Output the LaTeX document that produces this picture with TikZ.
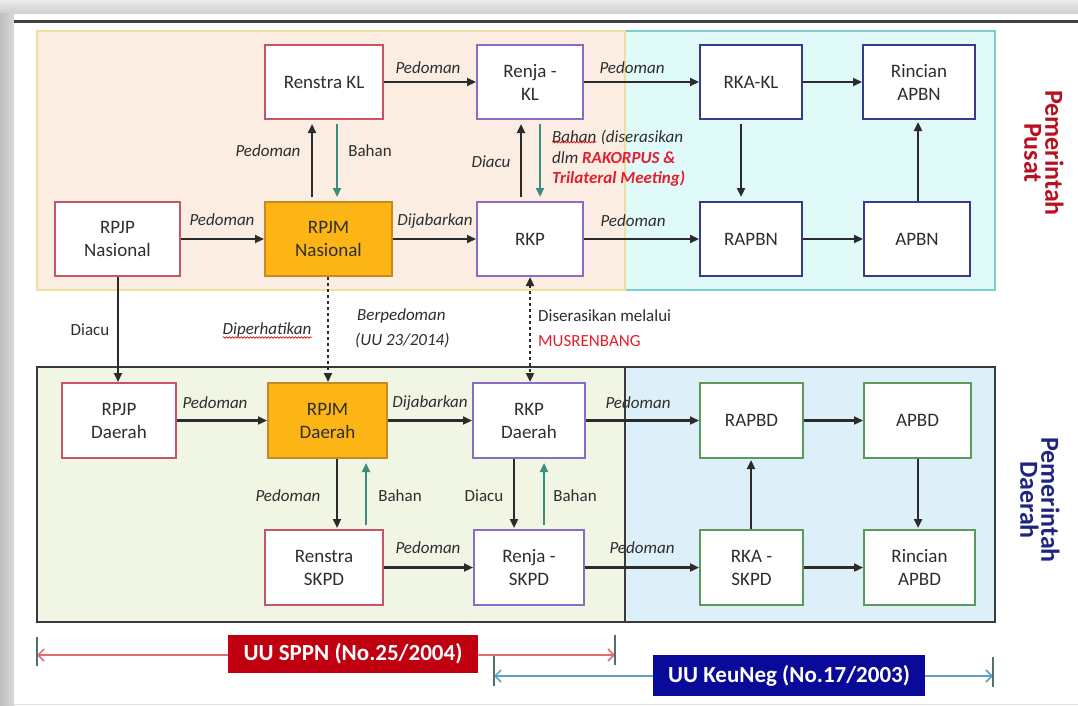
\documentclass[tikz,border=0pt]{standalone}
\usepackage{fontspec}
\setmainfont{Carlito}
\usetikzlibrary{arrows.meta,decorations.pathmorphing}
\definecolor{txt}{HTML}{2E2E2E}
\definecolor{peachF}{HTML}{FCEDE3}
\definecolor{peachD}{HTML}{F0DE9C}
\definecolor{cyanF}{HTML}{E0F9F9}
\definecolor{cyanD}{HTML}{7ECDD0}
\definecolor{greenF}{HTML}{F1F5E3}
\definecolor{blueF}{HTML}{DDF0FA}
\definecolor{regD}{HTML}{3A3A3A}
\definecolor{cRed}{HTML}{C8546A}
\definecolor{cPur}{HTML}{8A6CC8}
\definecolor{cNavy}{HTML}{3A3A8C}
\definecolor{cGrn}{HTML}{5A9A5A}
\definecolor{orF}{HTML}{FDB515}
\definecolor{orD}{HTML}{C88A20}
\definecolor{arrC}{HTML}{2B2B2B}
\definecolor{tealC}{HTML}{3D8C80}
\definecolor{redT}{HTML}{E02030}
\definecolor{pusatC}{HTML}{B81020}
\definecolor{daerahC}{HTML}{1E2580}
\definecolor{barR}{HTML}{E07070}
\definecolor{barB}{HTML}{5AA0C8}
\definecolor{boxR}{HTML}{C00010}
\definecolor{boxB}{HTML}{0A0A9A}
\definecolor{tickC}{HTML}{507070}
\begin{document}
\begin{tikzpicture}[x=1pt,y=-1pt,
  box/.style={draw, fill=white, line width=2pt, align=center, text=txt,
    font=\fontsize{19}{23}\selectfont, inner sep=0pt, minimum height=74pt},
  orbox/.style={box, fill=orF, draw=orD},
  arr/.style={draw=arrC, line width=2.2pt, -{Triangle[length=9pt,width=8pt]}},
  tarr/.style={draw=tealC, line width=2.2pt, -{Triangle[length=9pt,width=8pt]}},
  gap/.style={shorten <=4pt, shorten >=4pt},
  dotarr/.style={draw=arrC, line width=2.2pt, dash pattern=on 3pt off 3pt},
  lab/.style={font=\fontsize{17}{21}\selectfont\itshape, text=txt, inner sep=0pt},
  labn/.style={font=\fontsize{17}{21}\selectfont, text=txt, inner sep=0pt},
  wavy/.style={draw=red!85!black, line width=0.6pt, decorate,
    decoration={snake, amplitude=0.8pt, segment length=3pt}},
  side/.style={rotate=-90, align=center, font=\fontsize{26}{21}\selectfont\bfseries, inner sep=0pt},
  law/.style={text=white, font=\fontsize{23}{26}\selectfont\bfseries, inner sep=0pt},
  tick/.style={draw=tickC, line width=1.2pt},
  bar/.style={line width=1.5pt, {Straight Barb[length=6pt,width=12pt]}-{Straight Barb[length=6pt,width=12pt]}}
]
\useasboundingbox (0,0) rectangle (1078,706);
% page and shadow
\fill[white] (0,0) rectangle (1078,706);
\shade[top color=gray!15, bottom color=gray!40] (0,0) rectangle (1078,14);
\shade[left color=gray!50, right color=gray!30] (0,14) rectangle (14,706);
\draw[black!75, line width=3pt] (14,22) -- (1078,22);
\draw[gray!25, line width=1pt] (14,704) -- (1078,704);

% regions
\draw[fill=cyanF, draw=cyanD, line width=1.5pt] (625,31) rectangle (995,290);
\draw[fill=peachF, draw=peachD, line width=1.5pt] (37,31) rectangle (625,290);
\draw[fill=greenF, draw=regD, line width=2pt] (37,367) rectangle (625,622);
\draw[fill=blueF, draw=regD, line width=2pt] (625,367) rectangle (995,622);

% nodes row 1
\node[box, draw=cRed, minimum width=118pt] (rkl) at (324,82) {Renstra KL};
\node[box, draw=cPur, minimum width=106pt] (rjkl) at (530,82) {Renja -\\KL};
\node[box, draw=cNavy, minimum width=102pt] (rkakl) at (751,82) {RKA-KL};
\node[box, draw=cNavy, minimum width=112pt] (rapbnr) at (919,82) {Rincian\\APBN};
% row 2
\node[box, draw=cRed, minimum width=125pt] (rpjpn) at (117.5,239) {RPJP\\Nasional};
\node[orbox, minimum width=127pt] (rpjmn) at (328.5,239) {RPJM\\Nasional};
\node[box, draw=cPur, minimum width=106pt] (rkp) at (530,239) {RKP};
\node[box, draw=cNavy, minimum width=102pt] (rapbn) at (751,239) {RAPBN};
\node[box, draw=cNavy, minimum width=106pt] (apbn) at (917,239) {APBN};
% row 3
\node[box, draw=cRed, minimum width=114pt, minimum height=75pt] (rpjpd) at (119,420.5) {RPJP\\Daerah};
\node[orbox, minimum width=119pt, minimum height=75pt] (rpjmd) at (327.5,420.5) {RPJM\\Daerah};
\node[box, draw=cPur, minimum width=112pt, minimum height=75pt] (rkpd) at (529,420.5) {RKP\\Daerah};
\node[box, draw=cGrn, minimum width=103pt, minimum height=75pt] (rapbd) at (751.5,420.5) {RAPBD};
\node[box, draw=cGrn, minimum width=107pt, minimum height=75pt] (apbd) at (917.5,420.5) {APBD};
% row 4
\node[box, draw=cRed, minimum width=118pt, minimum height=75pt] (rskpd) at (324,567.5) {Renstra\\SKPD};
\node[box, draw=cPur, minimum width=110pt, minimum height=75pt] (rjskpd) at (529,567.5) {Renja -\\SKPD};
\node[box, draw=cGrn, minimum width=103pt, minimum height=75pt] (rkaskpd) at (751.5,567.5) {RKA -\\SKPD};
\node[box, draw=cGrn, minimum width=111pt, minimum height=75pt] (rapbdr) at (919.5,567.5) {Rincian\\APBD};

% column coordinates
\coordinate (x312) at (312,0);
\coordinate (x337) at (337,0);
\coordinate (x521) at (521,0);
\coordinate (x540) at (540,0);
\coordinate (x741) at (741,0);
\coordinate (x918) at (918,0);
\coordinate (x118) at (118,0);
\coordinate (x328) at (328,0);
\coordinate (x530) at (530,0);
\coordinate (x366) at (366,0);
\coordinate (x514) at (514,0);
\coordinate (x544) at (544,0);
\coordinate (x751) at (751,0);

% horizontal arrows
\draw[arr] (rkl) -- (rjkl);
\draw[arr] (rjkl) -- (rkakl);
\draw[arr] (rkakl) -- (rapbnr);
\draw[arr] (rpjpn) -- (rpjmn);
\draw[arr] (rpjmn) -- (rkp);
\draw[arr] (rkp) -- (rapbn);
\draw[arr] (rapbn) -- (apbn);
\draw[arr] (rpjpd) -- (rpjmd);
\draw[arr] (rpjmd) -- (rkpd);
\draw[arr] (rkpd) -- (rapbd);
\draw[arr] (rapbd) -- (apbd);
\draw[arr] (rskpd) -- (rjskpd);
\draw[arr] (rjskpd) -- (rkaskpd);
\draw[arr] (rkaskpd) -- (rapbdr);

% vertical arrows top
\draw[arr, gap] (rpjmn.north -| x312) -- (rkl.south -| x312);
\draw[tarr, gap] (rkl.south -| x337) -- (rpjmn.north -| x337);
\draw[arr, gap] (rkp.north -| x521) -- (rjkl.south -| x521);
\draw[tarr, gap] (rjkl.south -| x540) -- (rkp.north -| x540);
\draw[arr, gap] (rkakl.south -| x741) -- (rapbn.north -| x741);
\draw[arr, shorten >=2pt] (apbn.north -| x918) -- (rapbnr.south -| x918);

% between levels
\draw[arr] (rpjpn.south -| x118) -- (rpjpd.north -| x118);
\draw[dotarr, -{Triangle[length=9pt,width=8pt]}] (rpjmn.south -| x328) -- (rpjmd.north -| x328);
\draw[dotarr, {Triangle[length=9pt,width=8pt]}-{Triangle[length=9pt,width=8pt]}] (rkp.south -| x530) -- (rkpd.north -| x530);

% vertical arrows bottom
\draw[arr, shorten >=1pt] (rpjmd.south -| x337) -- (rskpd.north -| x337);
\draw[tarr, gap] (rskpd.north -| x366) -- (rpjmd.south -| x366);
\draw[arr, shorten >=1pt] (rkpd.south -| x514) -- (rjskpd.north -| x514);
\draw[tarr, gap] (rjskpd.north -| x544) -- (rkpd.south -| x544);
\draw[arr, shorten >=1pt] (rkaskpd.north -| x751) -- (rapbd.south -| x751);
\draw[arr, shorten >=1pt] (apbd.south -| x918) -- (rapbdr.north -| x918);

% labels top
\node[lab] (l1) at (428,68) {Pedoman};
\node[lab] (l2) at (632,68) {Pedoman};
\node[lab] (l3) at (222,220) {Pedoman};
\node[lab] (l4) at (435,221) {Dijabarkan};
\node[lab] (l5) at (633,221) {Pedoman};
\node[lab] (l6) at (268,151) {Pedoman};
\node[labn] (l7) at (370,151) {Bahan};
\node[lab] (l8) at (491,162) {Diacu};
\node[lab, anchor=west] (bh1) at (552,137) {Bahan};
\node[lab, anchor=base west] (bh2) at ([xshift=4pt]bh1.base east) {(diserasikan};
\draw[wavy] ([yshift=1pt]bh1.south west) -- ([yshift=1pt]bh1.south east);
\node[lab, anchor=west] (bh3) at (552,158) {dlm \textcolor{redT}{\bfseries RAKORPUS \&}};
\node[lab, anchor=west, text=redT, font=\fontsize{17}{21}\selectfont\bfseries\itshape] (bh4) at (552,179) {Trilateral Meeting)};

% labels middle
\node[labn] (l9) at (90,330) {Diacu};
\node[lab] (dip) at (267,330) {Diperhatikan};
\draw[wavy] (dip.south west) -- (dip.south east);
\node[lab, anchor=west] (bp1) at (357,316) {Berpedoman};
\node[lab, anchor=west] (bp2) at (355,340) {(UU 23/2014)};
\node[labn, anchor=west] (ds1) at (538,316) {Diserasikan melalui};
\node[labn, anchor=west, text=redT] (ds2) at (538,341) {MUSRENBANG};

% labels bottom
\node[lab] (l10) at (215,403) {Pedoman};
\node[lab] (l11) at (430,403) {Dijabarkan};
\node[lab] (l12) at (638,403) {Pedoman};
\node[lab] (l13) at (288,496) {Pedoman};
\node[labn] (l14) at (400,496) {Bahan};
\node[labn] (l15) at (484,496) {Diacu};
\node[labn] (l16) at (575,496) {Bahan};
\node[lab] (l17) at (428,548) {Pedoman};
\node[lab] (l18) at (642,548) {Pedoman};

% side labels
\node[side, text=pusatC] (pusat) at (1044,153) {Pemerintah\\Pusat};
\node[side, text=daerahC] (daerah) at (1040,500) {Pemerintah\\Daerah};

% law bars
\coordinate (sL) at (37,655);
\coordinate (sR) at (615,655);
\coordinate (kL) at (494,676);
\coordinate (kR) at (993,676);
\draw[bar, draw=barR] (sL) -- (sR);
\draw[bar, draw=barB] (kL) -- (kR);
\draw[tick] ([yshift=18pt]sL) -- ([yshift=-11pt]sL);
\draw[tick] ([yshift=20pt]sR) -- ([yshift=-10pt]sR);
\draw[tick] ([yshift=20pt]kL) -- ([yshift=-10pt]kL);
\draw[tick] ([yshift=19pt]kR) -- ([yshift=-11pt]kR);
\node[law, fill=boxR, minimum width=250pt, minimum height=38pt] (uusppn) at (353,654) {UU SPPN (No.25/2004)};
\node[law, fill=boxB, minimum width=272pt, minimum height=41pt] (uukn) at (789,675.5) {UU KeuNeg (No.17/2003)};
\end{tikzpicture}
\end{document}
